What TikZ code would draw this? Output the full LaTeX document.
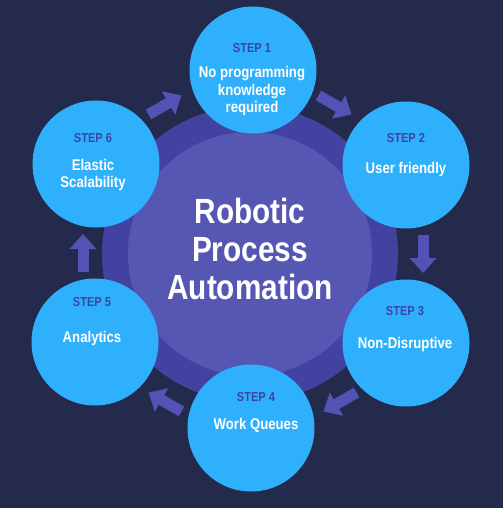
\documentclass[tikz,border=0pt]{standalone}
\usepackage{fontspec}
\setmainfont{Liberation Sans}[FakeStretch=0.85]
\usetikzlibrary{arrows.meta}
\definecolor{bgnavy}{HTML}{242A4B}
\definecolor{ringpurple}{HTML}{4243A0}
\definecolor{corepurple}{HTML}{5656B3}
\definecolor{stepblue}{HTML}{2FB0FC}
\definecolor{arrowpurple}{HTML}{5452B5}
\definecolor{stepink}{HTML}{3C45A3}

\begin{document}
\begin{tikzpicture}[
  x=1pt, y=-1pt,
  ring/.style={circle, fill=ringpurple, minimum size=296pt, inner sep=0pt},
  core/.style={circle, fill=corepurple, minimum size=244pt, inner sep=0pt},
  stepcirc/.style={circle, fill=stepblue, minimum size=127pt, inner sep=0pt},
  steplabel/.style={text=stepink, font=\fontsize{13}{15}\selectfont\bfseries, inner sep=0pt},
  stepbody/.style={text=white, align=center, font=\fontsize{15.5}{17.5}\selectfont\bfseries, inner sep=0pt},
  title/.style={text=white, align=center, font=\fontsize{35}{38}\selectfont\bfseries, inner sep=0pt},
  steparrow/.style={arrowpurple, line width=11pt, -{Triangle[length=15pt, width=26pt]}},
]
  \fill[bgnavy] (0,0) rectangle (503,508);
  \useasboundingbox (0,0) rectangle (503,508);

  \node[ring] (hub)  at (250,254) {};
  \node[core] (core) at (250,254) {};
  \node[title] (rpa) at (250,249) {Robotic\\Process\\Automation};

  \node[stepcirc] (s1) at (253,70)  {};
  \node[stepcirc] (s2) at (406,165) {};
  \node[stepcirc] (s3) at (406,343) {};
  \node[stepcirc] (s4) at (251,428) {};
  \node[stepcirc] (s5) at (95,342)  {};
  \node[stepcirc] (s6) at (96,164)  {};

  \node[steplabel] (l1) at (252,48)  {STEP 1};
  \node[stepbody]  (b1) at (252,91)  {No programming\\knowledge\\required};
  \node[steplabel] (l2) at (406,138) {STEP 2};
  \node[stepbody]  (b2) at (406,169) {User friendly};
  \node[steplabel] (l3) at (405,311) {STEP 3};
  \node[stepbody]  (b3) at (405,344) {Non-Disruptive};
  \node[steplabel] (l4) at (256,397) {STEP 4};
  \node[stepbody]  (b4) at (256,425) {Work Queues};
  \node[steplabel] (l5) at (92,302)  {STEP 5};
  \node[stepbody]  (b5) at (92,338)  {Analytics};
  \node[steplabel] (l6) at (93,138)  {STEP 6};
  \node[stepbody]  (b6) at (93,175)  {Elastic\\Scalability};

  \coordinate (a1s) at (148.5,114.5); \coordinate (a1e) at (181.5,95.5);
  \coordinate (a2s) at (318.5,95.5);  \coordinate (a2e) at (351.5,114.5);
  \coordinate (a3s) at (423,235);     \coordinate (a3e) at (423,273);
  \coordinate (a4s) at (356.5,392.5); \coordinate (a4e) at (323.5,411.5);
  \coordinate (a5s) at (181.5,411.5); \coordinate (a5e) at (148.5,392.5);
  \coordinate (a6s) at (83,272);      \coordinate (a6e) at (83,234);

  \draw[steparrow] (a1s) -- (a1e);
  \draw[steparrow] (a2s) -- (a2e);
  \draw[steparrow] (a3s) -- (a3e);
  \draw[steparrow] (a4s) -- (a4e);
  \draw[steparrow] (a5s) -- (a5e);
  \draw[steparrow] (a6s) -- (a6e);
\end{tikzpicture}
\end{document}
